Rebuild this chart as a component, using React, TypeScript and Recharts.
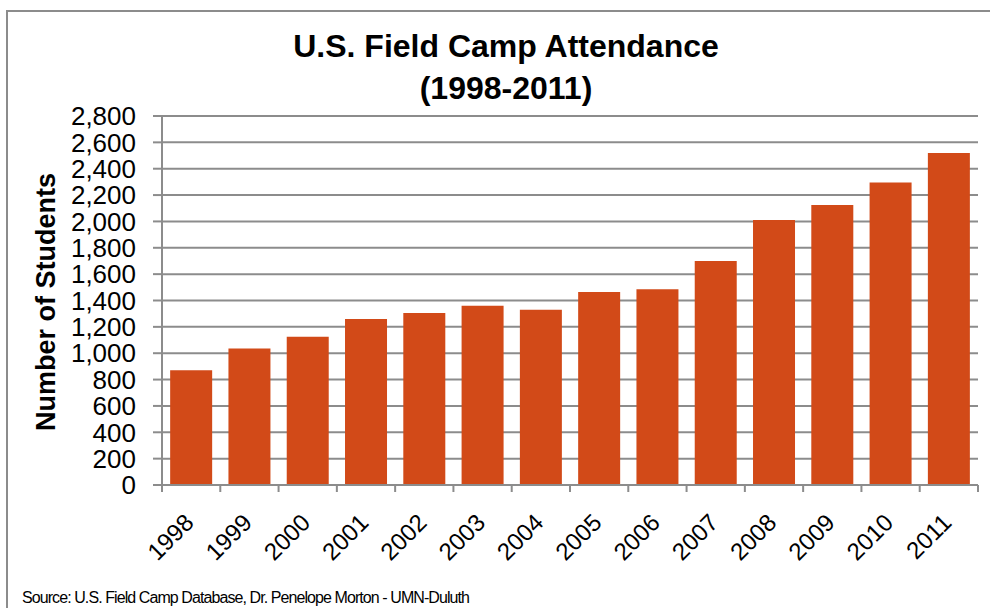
import { Bar, BarChart, CartesianGrid, XAxis, YAxis } from "recharts";

const years = ["1998", "1999", "2000", "2001", "2002", "2003", "2004", "2005", "2006", "2007", "2008", "2009", "2010", "2011"];
const attendance = [870, 1035, 1125, 1260, 1305, 1360, 1330, 1465, 1485, 1700, 2010, 2125, 2295, 2520];
const yTicks = [0, 200, 400, 600, 800, 1000, 1200, 1400, 1600, 1800, 2000, 2200, 2400, 2600, 2800];

const data = years.map((year, i) => ({ year, students: attendance[i] }));

const W = 990;
const H = 608;
const PLOT_LEFT = 162;
const PLOT_RIGHT = 978;
const PLOT_TOP = 116;
const PLOT_BOTTOM = 485;
const Y_AXIS_W = 120;
const X_AXIS_H = 20;
const BAND = (PLOT_RIGHT - PLOT_LEFT) / years.length;

const RULE = "#8c8c8c";
const BAR = "#d24a18";
const FONT = "'Liberation Sans', Arial, sans-serif";

// Excel-style category axis: tick marks sit between bars, labels turned -45deg
function YearTick(props: any) {
  const { x, y, payload, index } = props;
  const lx = x + 4;
  const ly = y + 39;
  return (
    <g>
      <line x1={x - BAND / 2} x2={x - BAND / 2} y1={y} y2={y + 7} stroke={RULE} strokeWidth={2} />
      {index === years.length - 1 && (
        <line x1={x + BAND / 2} x2={x + BAND / 2} y1={y} y2={y + 7} stroke={RULE} strokeWidth={2} />
      )}
      <text
        x={lx}
        y={ly}
        transform={`rotate(-45 ${lx} ${ly})`}
        textAnchor="end"
        fontSize={24}
        fontFamily={FONT}
        fill="#000"
      >
        {payload.value}
      </text>
    </g>
  );
}

export default function App() {
  return (
    <div style={{ position: "absolute", left: 0, top: 0, width: W, height: H, background: "#fff", overflow: "hidden" }}>
      <BarChart
        width={W}
        height={H}
        data={data}
        barCategoryGap="14%"
        margin={{
          top: PLOT_TOP,
          right: W - PLOT_RIGHT,
          bottom: H - PLOT_BOTTOM - X_AXIS_H,
          left: PLOT_LEFT - Y_AXIS_W,
        }}
      >
        <CartesianGrid vertical={false} stroke={RULE} strokeWidth={2} />
        <XAxis
          dataKey="year"
          height={X_AXIS_H}
          interval={0}
          tickSize={0}
          tickMargin={0}
          tickLine={false}
          axisLine={{ stroke: RULE, strokeWidth: 2 }}
          tick={<YearTick />}
        />
        <YAxis
          width={Y_AXIS_W}
          domain={[0, 2800]}
          ticks={yTicks}
          interval={0}
          tickSize={9}
          tickMargin={17}
          tickLine={{ stroke: RULE, strokeWidth: 2 }}
          axisLine={{ stroke: RULE, strokeWidth: 2 }}
          tickFormatter={(v: number) => v.toLocaleString("en-US")}
          tick={{ fontSize: 26, fill: "#000", fontFamily: FONT }}
        />
        <Bar dataKey="students" fill={BAR} isAnimationActive={false} />
      </BarChart>
      <svg
        width={W}
        height={H}
        style={{ position: "absolute", left: 0, top: 0, pointerEvents: "none" }}
        fontFamily={FONT}
      >
        <rect x={7} y={11} width={1100} height={800} fill="none" stroke={RULE} strokeWidth={2} />
        <text x={506} y={57} textAnchor="middle" fontSize={32} fontWeight="bold" fill="#000">
          U.S. Field Camp Attendance
        </text>
        <text x={506} y={99} textAnchor="middle" fontSize={32} fontWeight="bold" fill="#000">
          (1998-2011)
        </text>
        <text
          x={55}
          y={302}
          transform="rotate(-90 55 302)"
          textAnchor="middle"
          fontSize={27}
          fontWeight="bold"
          fill="#000"
        >
          Number of Students
        </text>
        <text x={22} y={603} fontSize={16} fill="#000" textLength={448} lengthAdjust="spacing">
          Source: U.S. Field Camp Database, Dr. Penelope Morton - UMN-Duluth
        </text>
      </svg>
    </div>
  );
}
